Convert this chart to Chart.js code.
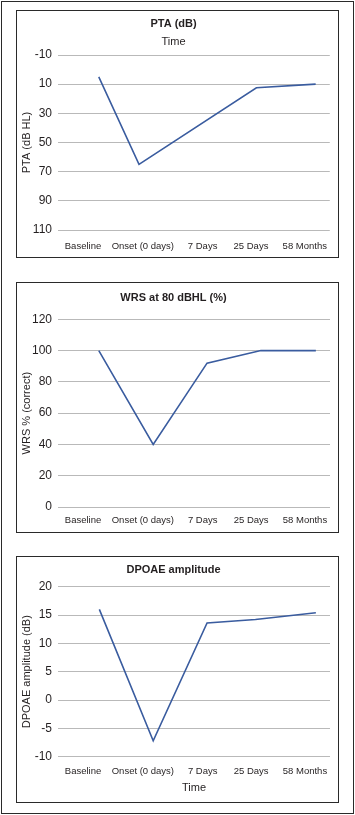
<!DOCTYPE html>
<html>
<head>
<meta charset="utf-8">
<script src="https://cdn.jsdelivr.net/npm/chart.js@4.4.0/dist/chart.umd.min.js"></script>
<style>
    body { margin: 0; background: #fff; }
    #frame { position: absolute; left: 1px; top: 1px; width: 351px; height: 811px; border: 1px solid #2a2a2a; }
    .panel { position: absolute; left: 16px; width: 321px; border: 1px solid #2a2a2a; background: #fff; }
    .panel canvas { display: block; }
</style>
</head>
<body>
<div id="frame"></div>
<div class="panel" style="top:10px;height:246px"><canvas id="ptaChart" width="321" height="246"></canvas></div>
<div class="panel" style="top:282px;height:249px"><canvas id="wrsChart" width="321" height="249"></canvas></div>
<div class="panel" style="top:556px;height:245px"><canvas id="dpoaeChart" width="321" height="245"></canvas></div>
<script>
const categories = ['Baseline', 'Onset (0 days)', '7 Days', '25 Days', '58 Months'];
// where each category label sits along the x axis (0..5)
const labelPos = [0.46, 1.56, 2.66, 3.55, 4.54];

const ptaValues = [5, 65, null, 12.5, 10];
const ptaX = [0.75, 1.49, 2.75, 3.65, 4.74];
const ptaTicks = [-10, 10, 30, 50, 70, 90, 110];

const wrsValues = [100, 40, 92, 100, 100];
const wrsX = [0.75, 1.75, 2.74, 3.73, 4.74];
const wrsTicks = [0, 20, 40, 60, 80, 100, 120];

const dpoaeValues = [16, -7.2, 13.6, 14.2, 15.4];
const dpoaeX = [0.76, 1.75, 2.74, 3.63, 4.74];
const dpoaeTicks = [-10, -5, 0, 5, 10, 15, 20];

const fontFamily = '"Liberation Sans", Arial, Helvetica, sans-serif';
const textColor = '#231f20';
const lineColor = '#3a5c9f';
const gridColor = '#b9b9b9';

function makePoints(xs, ys) {
    return xs.map((x, i) => ({ x: x, y: ys[i] }));
}

function createChart(id, cfg) {
    const ctx = document.getElementById(id).getContext('2d');
    const xScale = {
        type: 'linear',
        min: 0,
        max: 5,
        grid: { display: false, drawTicks: false },
        border: { display: false },
        afterBuildTicks: scale => {
            scale.ticks = labelPos.map(v => ({ value: v }));
        },
        afterFit: scale => { scale.height = cfg.xHeight; },
        ticks: {
            padding: cfg.xPad,
            maxRotation: 0,
            autoSkip: false,
            color: textColor,
            font: { family: fontFamily, size: 9.5 },
            callback: (val, idx) => categories[idx]
        }
    };
    if (cfg.xTitle) {
        xScale.title = {
            display: true,
            text: cfg.xTitle,
            color: textColor,
            font: { family: fontFamily, size: 11 },
            padding: { top: 0, bottom: cfg.xTitlePad }
        };
    }
    return new Chart(ctx, {
        type: 'line',
        data: {
            datasets: [{
                data: makePoints(cfg.xs, cfg.values),
                borderColor: lineColor,
                borderWidth: 1.6,
                pointRadius: 0,
                tension: 0,
                spanGaps: true
            }]
        },
        options: {
            responsive: false,
            animation: false,
            layout: { padding: { left: 0, right: 8, top: 0, bottom: 0 } },
            plugins: {
                legend: { display: false },
                tooltip: { enabled: false },
                title: {
                    display: true,
                    text: cfg.title,
                    color: textColor,
                    font: { family: fontFamily, size: 11, weight: 'bold' },
                    padding: cfg.titlePad
                },
                subtitle: {
                    display: !!cfg.subtitle,
                    text: cfg.subtitle || '',
                    color: textColor,
                    font: { family: fontFamily, size: 11 },
                    padding: cfg.subtitlePad || 0
                }
            },
            scales: {
                x: xScale,
                y: {
                    min: cfg.ticks[0],
                    max: cfg.ticks[cfg.ticks.length - 1],
                    reverse: !!cfg.reverse,
                    afterBuildTicks: scale => {
                        scale.ticks = cfg.ticks.map(v => ({ value: v }));
                    },
                    afterFit: scale => { scale.width = 41; },
                    grid: { color: gridColor, lineWidth: 1, drawTicks: false },
                    border: { display: false },
                    ticks: {
                        padding: 6,
                        color: textColor,
                        font: { family: fontFamily, size: 12 }
                    },
                    title: {
                        display: true,
                        text: cfg.yTitle,
                        color: textColor,
                        font: { family: fontFamily, size: 11 },
                        padding: { top: 3.4, bottom: 0 }
                    }
                }
            }
        }
    });
}

createChart('ptaChart', {
    title: 'PTA (dB)',
    subtitle: 'Time',
    titlePad: { top: 6.4, bottom: 4 },
    subtitlePad: { top: 0.8, bottom: 6.4 },
    yTitle: 'PTA (dB HL)',
    reverse: true,
    ticks: ptaTicks,
    xs: ptaX,
    values: ptaValues,
    xHeight: 27,
    xPad: 10.3
});

createChart('wrsChart', {
    title: 'WRS at 80 dBHL (%)',
    titlePad: { top: 8.4, bottom: 14.7 },
    yTitle: 'WRS % (correct)',
    ticks: wrsTicks,
    xs: wrsX,
    values: wrsValues,
    xHeight: 25,
    xPad: 7.3
});

createChart('dpoaeChart', {
    title: 'DPOAE amplitude',
    titlePad: { top: 6.4, bottom: 10.1 },
    yTitle: 'DPOAE amplitude (dB)',
    ticks: dpoaeTicks,
    xs: dpoaeX,
    values: dpoaeValues,
    xHeight: 45.3,
    xPad: 9.3,
    xTitle: 'Time',
    xTitlePad: 7.4
});
</script>
</body>
</html>
